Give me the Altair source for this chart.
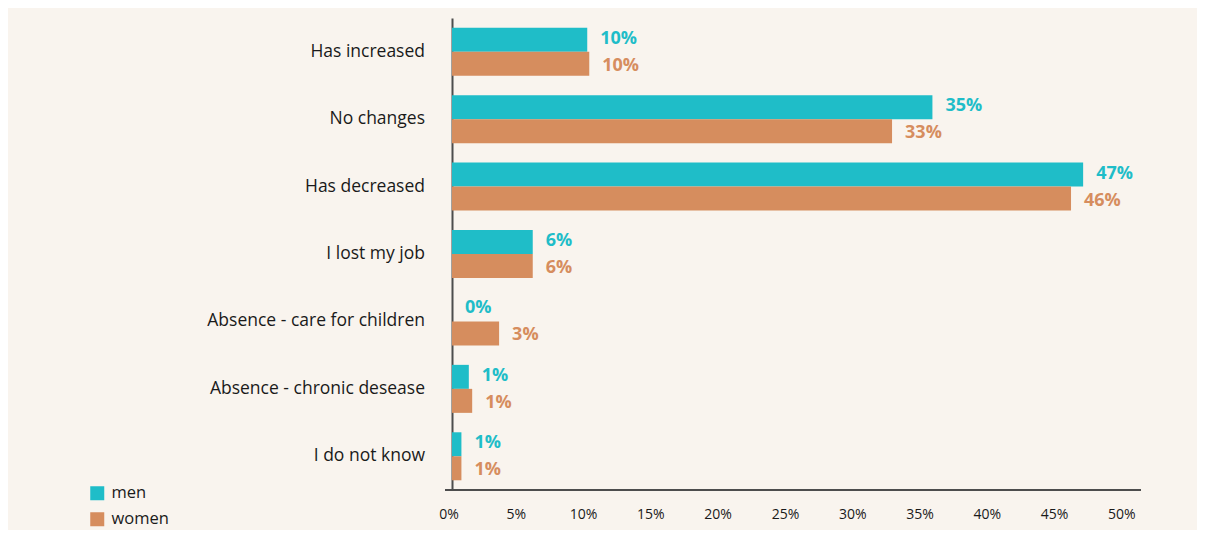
import altair as alt
import pandas as pd

categories = ["Has increased", "No changes", "Has decreased", "I lost my job\u00a0",
              "Absence - care for children", "Absence - chronic desease", "I do not know"]
men_values = [10.05, 35.7, 46.9, 6.0, 0.0, 1.25, 0.7]
women_values = [10.2, 32.7, 46.0, 6.0, 3.5, 1.5, 0.7]
men_labels = ["10%", "35%", "47%", "6%", "0%", "1%", "1%"]
women_labels = ["10%", "33%", "46%", "6%", "3%", "1%", "1%"]
groups = ["men", "women"]
tick_values = [0, 5, 10, 15, 20, 25, 30, 35, 40, 45, 50]

rows = []
for c, mv, wv, ml, wl in zip(categories, men_values, women_values, men_labels, women_labels):
    rows.append({"category": c, "group": "men", "value": mv, "label": ml})
    rows.append({"category": c, "group": "women", "value": wv, "label": wl})
df = pd.DataFrame(rows)

TEAL = "#1fbdc8"
ORANGE = "#d68d5e"
BG = "#f9f4ee"
FONT = "Open Sans"

W, H = 689, 472

color_scale = alt.Scale(domain=groups, range=[TEAL, ORANGE])
y_enc = alt.Y("category:N", sort=categories,
              scale=alt.Scale(paddingInner=0.288, paddingOuter=0.144),
              axis=alt.Axis(title=None, ticks=False, tickSize=0, labelPadding=27.5,
                            labelFontSize=17.5, labelFont=FONT, labelColor="#1a1a1a",
                            domainColor="#4d4d4d", domainWidth=2, labelLimit=400))
yoff = alt.YOffset("group:N", sort=groups, scale=alt.Scale(paddingInner=0, paddingOuter=0))
x_enc = alt.X("value:Q", scale=alt.Scale(domain=[0, 51.2], nice=False, zero=True),
              axis=alt.Axis(title=None, values=tick_values, format="d",
                            labelExpr="datum.value + '%'", grid=False, ticks=False,
                            domain=False, labelPadding=17, labelFontSize=14,
                            labelFont=FONT, labelColor="#1a1a1a",
                            labelFlush=False, labelOffset=-3.5))

base = alt.Chart(df)

bars = base.mark_bar().encode(
    x=x_enc, y=y_enc, yOffset=yoff,
    color=alt.Color("group:N", scale=color_scale, sort=groups,
                    legend=alt.Legend(title=None, orient="none", legendX=-363, legendY=467,
                                      symbolType="square", symbolSize=196, symbolStrokeWidth=0,
                                      labelFontSize=16.5, labelFont=FONT, labelColor="#1a1a1a",
                                      labelOffset=6, rowPadding=9, padding=0)),
)


def value_text(group, dy):
    return base.transform_filter(alt.datum.group == group).mark_text(
        align="left", baseline="middle", dx=13, dy=dy, fontSize=18,
        fontWeight="bold", font=FONT).encode(
        x="value:Q", y=alt.Y("category:N", sort=categories), yOffset=yoff,
        text="label:N",
        color=alt.Color("group:N", scale=color_scale, sort=groups, legend=None),
    )


texts_men = value_text("men", -1)
texts_women = value_text("women", 2)

xline = base.mark_rule(color="#4d4d4d", strokeWidth=2).encode(
    x=alt.value(-7), x2=alt.value(W), y=alt.value(H))

chart = alt.layer(bars, texts_men, texts_women, xline).properties(
    width=W, height=H,
    autosize=alt.AutoSizeParams(type="none"),
    padding={"left": 444, "top": 10, "right": 56, "bottom": 40},
    background=BG,
).configure_view(stroke=None)

chart.save("out.html", embed_options={"renderer": "svg", "actions": False})
